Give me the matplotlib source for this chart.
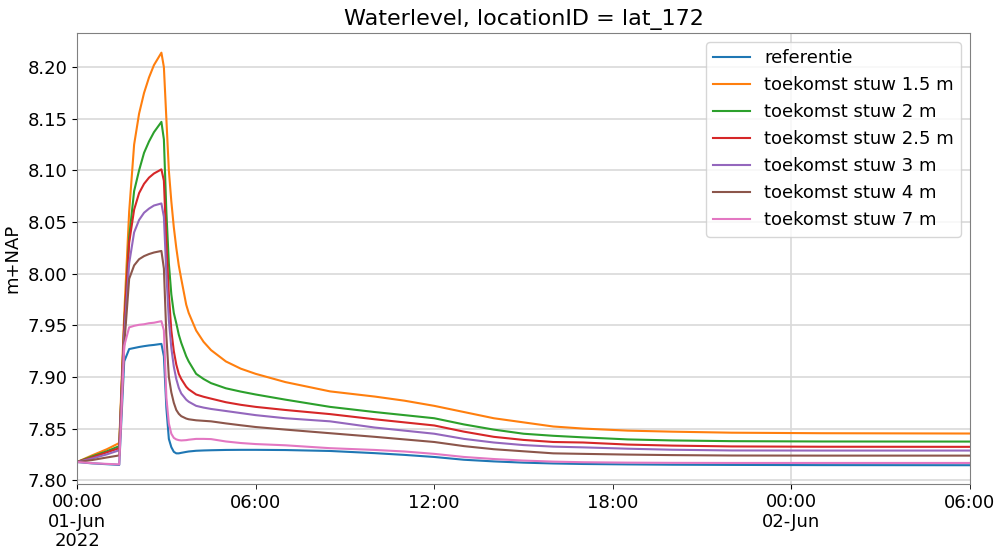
## Waterlevel chart, locationID lat_172

import matplotlib
matplotlib.use('Agg')
import matplotlib.pyplot as plt
import matplotlib.dates as mdates
from matplotlib.ticker import FuncFormatter
import pandas as pd

## Data
times = ['2022-06-01 00:00', '2022-06-01 00:30', '2022-06-01 01:00', '2022-06-01 01:25',
         '2022-06-01 01:35', '2022-06-01 01:45', '2022-06-01 01:55', '2022-06-01 02:05',
         '2022-06-01 02:15', '2022-06-01 02:25', '2022-06-01 02:35', '2022-06-01 02:50',
         '2022-06-01 02:55', '2022-06-01 03:00', '2022-06-01 03:05', '2022-06-01 03:10',
         '2022-06-01 03:15', '2022-06-01 03:20', '2022-06-01 03:25', '2022-06-01 03:30',
         '2022-06-01 03:40', '2022-06-01 03:45', '2022-06-01 04:00', '2022-06-01 04:15',
         '2022-06-01 04:30', '2022-06-01 05:00', '2022-06-01 05:30', '2022-06-01 06:00',
         '2022-06-01 07:00', '2022-06-01 08:30', '2022-06-01 10:00', '2022-06-01 11:00',
         '2022-06-01 12:00', '2022-06-01 13:00', '2022-06-01 14:00', '2022-06-01 15:00',
         '2022-06-01 16:00', '2022-06-01 17:00', '2022-06-01 18:30', '2022-06-01 20:00',
         '2022-06-01 22:00', '2022-06-02 01:00', '2022-06-02 06:00']

referentie = [7.8176, 7.8163, 7.8155, 7.8148, 7.915, 7.927, 7.928, 7.929, 7.9298, 7.9305,
              7.931, 7.932, 7.920, 7.870, 7.840, 7.832, 7.8275, 7.826, 7.826, 7.8265,
              7.8274, 7.8278, 7.8285, 7.8288, 7.829, 7.8293, 7.8294, 7.8294, 7.8292, 7.8283,
              7.8262, 7.8245, 7.8225, 7.8198, 7.8182, 7.817, 7.8162, 7.8157, 7.8153, 7.815,
              7.8148, 7.8146, 7.8145]
stuw_1_5 = [7.8176, 7.824, 7.830, 7.836, 7.960, 8.060, 8.125, 8.155, 8.175, 8.190,
            8.202, 8.214, 8.200, 8.150, 8.100, 8.070, 8.045, 8.025, 8.008, 7.995,
            7.970, 7.962, 7.945, 7.934, 7.926, 7.915, 7.908, 7.903, 7.895, 7.886,
            7.881, 7.877, 7.872, 7.866, 7.860, 7.856, 7.852, 7.850, 7.848, 7.847,
            7.846, 7.8455, 7.8452]
stuw_2 = [7.8176, 7.823, 7.828, 7.833, 7.950, 8.035, 8.080, 8.100, 8.117, 8.128,
          8.137, 8.147, 8.130, 8.060, 8.010, 7.980, 7.962, 7.952, 7.941, 7.933,
          7.920, 7.915, 7.903, 7.898, 7.894, 7.889, 7.8858, 7.883, 7.878, 7.871,
          7.866, 7.863, 7.860, 7.854, 7.849, 7.845, 7.843, 7.8415, 7.8395, 7.8385,
          7.8378, 7.8375, 7.8374]
stuw_2_5 = [7.8176, 7.822, 7.827, 7.831, 7.950, 8.030, 8.062, 8.078, 8.087, 8.093,
            8.097, 8.101, 8.090, 8.030, 7.980, 7.945, 7.925, 7.912, 7.903, 7.898,
            7.8905, 7.888, 7.883, 7.8808, 7.879, 7.8755, 7.873, 7.871, 7.868, 7.864,
            7.859, 7.856, 7.853, 7.847, 7.842, 7.839, 7.837, 7.8365, 7.8345, 7.8335,
            7.8327, 7.8324, 7.8323]
stuw_3 = [7.8176, 7.821, 7.825, 7.829, 7.940, 8.010, 8.040, 8.052, 8.059, 8.063,
          8.066, 8.068, 8.055, 8.000, 7.955, 7.928, 7.910, 7.898, 7.8895, 7.884,
          7.878, 7.876, 7.872, 7.8703, 7.869, 7.867, 7.865, 7.863, 7.860, 7.857,
          7.851, 7.848, 7.845, 7.840, 7.8365, 7.834, 7.8325, 7.8318, 7.8305, 7.8295,
          7.8288, 7.8287, 7.8287]
stuw_4 = [7.8176, 7.8195, 7.822, 7.824, 7.930, 7.995, 8.008, 8.014, 8.017, 8.019,
          8.0205, 8.022, 8.005, 7.940, 7.900, 7.885, 7.875, 7.868, 7.8643, 7.862,
          7.8597, 7.859, 7.858, 7.8575, 7.857, 7.855, 7.8532, 7.8515, 7.849, 7.8455,
          7.842, 7.8395, 7.837, 7.833, 7.830, 7.828, 7.826, 7.8255, 7.8248, 7.8243,
          7.8239, 7.8238, 7.8238]
stuw_7 = [7.8176, 7.8165, 7.8158, 7.8153, 7.930, 7.948, 7.9495, 7.9505, 7.951, 7.952,
          7.9525, 7.954, 7.945, 7.880, 7.855, 7.845, 7.841, 7.8395, 7.8388, 7.8385,
          7.8388, 7.8392, 7.840, 7.840, 7.8398, 7.8375, 7.836, 7.835, 7.8338, 7.831,
          7.8293, 7.8278, 7.8255, 7.8225, 7.8205, 7.819, 7.818, 7.8174, 7.817, 7.8168,
          7.8167, 7.8167, 7.8167]

labels = ['referentie', 'toekomst stuw 1.5 m', 'toekomst stuw 2 m', 'toekomst stuw 2.5 m',
          'toekomst stuw 3 m', 'toekomst stuw 4 m', 'toekomst stuw 7 m']

df = pd.DataFrame({labels[0]: referentie, labels[1]: stuw_1_5, labels[2]: stuw_2,
                   labels[3]: stuw_2_5, labels[4]: stuw_3, labels[5]: stuw_4,
                   labels[6]: stuw_7}, index=pd.to_datetime(times))

## Plotting
fig = plt.figure(figsize=(10.01, 5.51), dpi=100)
ax = fig.add_axes([0.077, 0.121, 0.892, 0.819])

for col in df.columns:
    ax.plot(df.index, df[col], label=col, linewidth=1.5)

ax.set_xlim(pd.Timestamp('2022-06-01 00:00'), pd.Timestamp('2022-06-02 06:00'))
ax.set_ylim(7.796, 8.233)

# date ticks like pandas: days as major, 6 hours as minor
def major_fmt(x, pos):
    d = mdates.num2date(x)
    if d.day == 1:
        return d.strftime('%H:%M\n%d-%b\n%Y')
    return d.strftime('%H:%M\n%d-%b')

ax.xaxis.set_major_locator(mdates.DayLocator())
ax.xaxis.set_major_formatter(FuncFormatter(major_fmt))
ax.xaxis.set_minor_locator(mdates.HourLocator(byhour=[6, 12, 18]))
ax.xaxis.set_minor_formatter(mdates.DateFormatter('%H:%M'))
ax.tick_params(axis='both', which='both', labelsize=13)
ax.tick_params(axis='x', which='minor', length=3.5)
ax.tick_params(axis='x', which='major', pad=3)

ax.set_yticks([7.80, 7.85, 7.90, 7.95, 8.00, 8.05, 8.10, 8.15, 8.20])
ax.yaxis.set_major_formatter(FuncFormatter(lambda v, p: '%.2f' % v))

ax.grid(True, which='major', color='#d9d9d9', linewidth=1.2)
for s in ax.spines.values():
    s.set_color('#808080')

ax.set_ylabel('m+NAP', fontsize=13)
ax.set_title('Waterlevel, locationID = lat_172', fontsize=16)
ax.legend(loc='upper right', fontsize=13)

fig.canvas.draw()
for t in ax.xaxis.get_major_ticks():
    t.label1.set_linespacing(1.1)

fig.savefig('out.png', dpi=100)
